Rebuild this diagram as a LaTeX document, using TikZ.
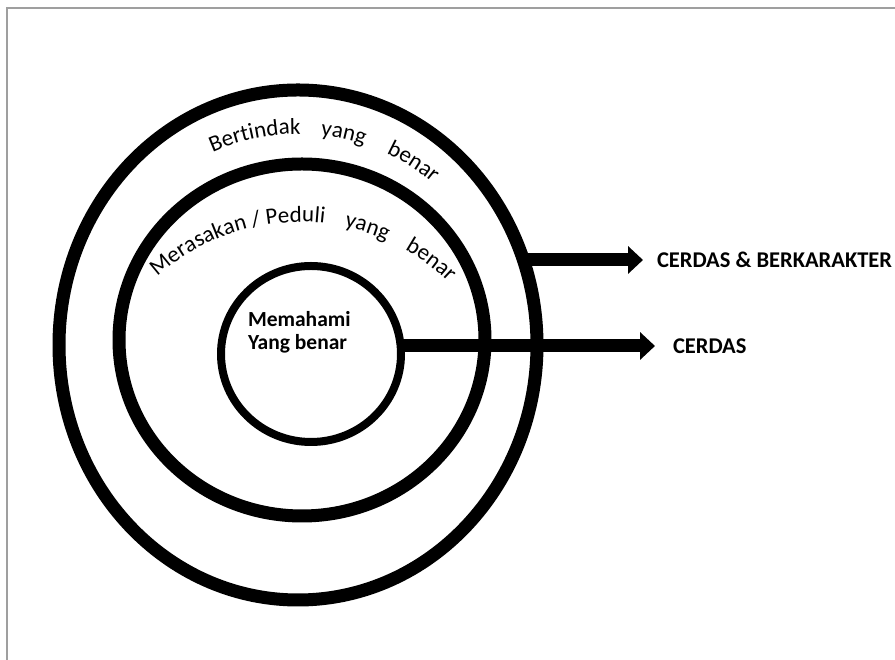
\documentclass[tikz,border=0pt]{standalone}
\usepackage{fontspec}
\setmainfont{Carlito}
\usetikzlibrary{decorations.text,arrows.meta,shapes.geometric}
\newcommand\arcfont{\fontsize{23pt}{27pt}\selectfont}
\begin{document}
\begin{tikzpicture}[x=1pt,y=1pt,
  ring/.style={ellipse, draw=black, line width=13pt, inner sep=0pt, outer sep=0pt},
  core/.style={ellipse, draw=black, line width=8pt, inner sep=0pt, outer sep=0pt},
  label/.style={inner sep=0pt, outer sep=0pt, font=\fontsize{22.5pt}{24pt}\selectfont\bfseries},
  bigarrow/.style={line width=13pt, -{Triangle[width=27pt,length=15pt]}},
  arcword/.style={decorate, decoration={text along path, text align=left, text={#1}}}
]
\useasboundingbox (0,0) rectangle (895,660);
% frame
\draw[gray!75, line width=2pt] (7,652) rectangle (898,-3);

% the three rings
\node[ring, minimum width=478pt, minimum height=510pt] (outer) at (298,315) {};
\node[ring, minimum width=366pt, minimum height=352pt] (middle) at (302,320) {};
\node[core, minimum width=180pt, minimum height=176pt] (inner) at (311,306) {};

% curved captions
\path[arcword={|\arcfont|Bertindak}] (298,316) ++(114:210) arc[start angle=114, end angle=72, radius=210];
\path[arcword={|\arcfont|yang}] (298,316) ++(83.8:210) arc[start angle=83.8, end angle=55, radius=210];
\path[arcword={|\arcfont|benar}] (298,316) ++(65.1:210) arc[start angle=65.1, end angle=30, radius=210];

\path[arcword={|\arcfont|Merasakan / Peduli}] (300,225) ++(132.1:213) arc[start angle=132.1, end angle=70, radius=213];
\path[arcword={|\arcfont|yang}] (300,225) ++(78:213) arc[start angle=78, end angle=50, radius=213];
\path[arcword={|\arcfont|benar}] (300,225) ++(60.5:213) arc[start angle=60.5, end angle=25, radius=213];

% centre text
\node[label, font=\fontsize{21.5pt}{23.5pt}\selectfont\bfseries, align=left, anchor=base west] (core) at (248,310) {Memahami\\Yang benar};

% outcomes
\node[label, anchor=west] (cb) at (657,400) {CERDAS \& BERKARAKTER};
\node[label, anchor=west] (cd) at (673,314) {CERDAS};

\coordinate (s1) at (522,400);
\coordinate (s2) at (398,314);
\draw[bigarrow] (s1) -- ([xshift=-14pt]cb.west);
\draw[bigarrow] (s2) -- ([xshift=-18pt]cd.west);
\end{tikzpicture}
\end{document}
